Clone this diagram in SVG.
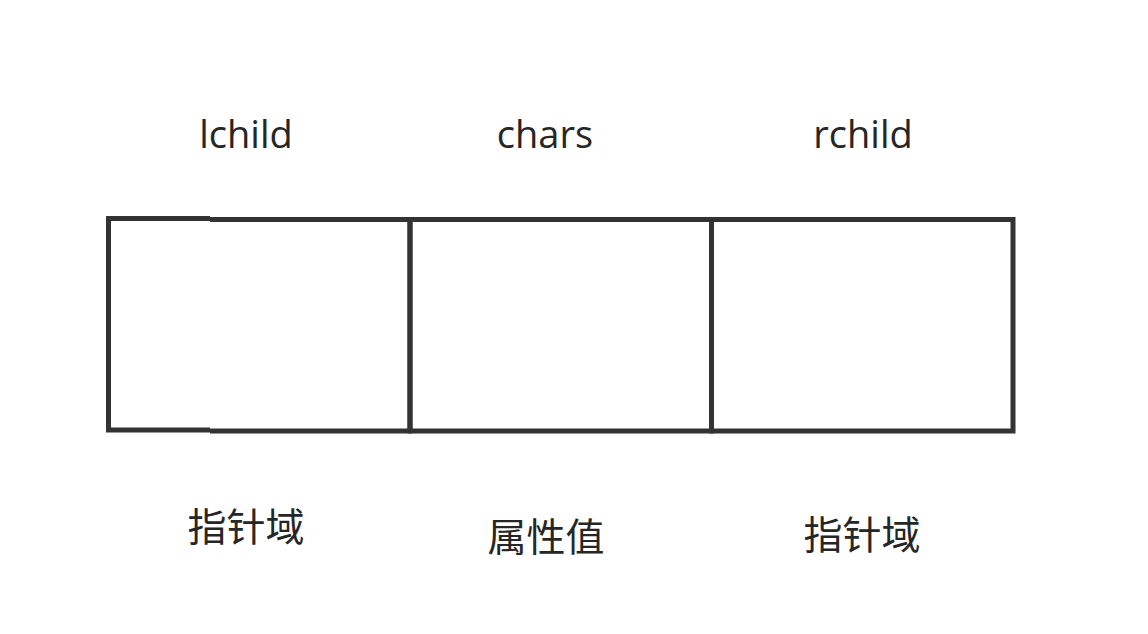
<svg xmlns="http://www.w3.org/2000/svg" width="1148" height="634" viewBox="0 0 1148 634">
<style>
.cell{fill:none;stroke:#333333;stroke-width:5;stroke-linejoin:miter}
.lbl{font-family:"Open Sans","Noto Sans","Noto Sans CJK SC",sans-serif;font-size:38px;fill:#262626;text-anchor:middle}
.cn{font-family:"Noto Sans CJK SC","Noto Sans",sans-serif;font-size:39px;fill:#262626;text-anchor:middle}
</style>
<rect width="1148" height="634" fill="#ffffff"/>
<g id="labels-top">
<text class="lbl" x="246" y="148">lchild</text>
<text class="lbl" x="545" y="148">chars</text>
<text class="lbl" x="863" y="148">rchild</text>
</g>
<g id="node-lchild">
<path class="cell" d="M210,218.5 H108.5 V430 H210"/>
<path class="cell" d="M210,219.5 H410 V431 H210"/>
</g>
<g id="node-chars">
<rect class="cell" x="410" y="219.5" width="301.5" height="211.5"/>
</g>
<g id="node-rchild">
<rect class="cell" x="711.5" y="219.5" width="301.5" height="211.5"/>
</g>
<g id="connectors"></g>
<g id="labels-bottom">
<text class="cn" x="246" y="541">指针域</text>
<text class="cn" x="546" y="551">属性值</text>
<text class="cn" x="862" y="549">指针域</text>
</g>
</svg>
